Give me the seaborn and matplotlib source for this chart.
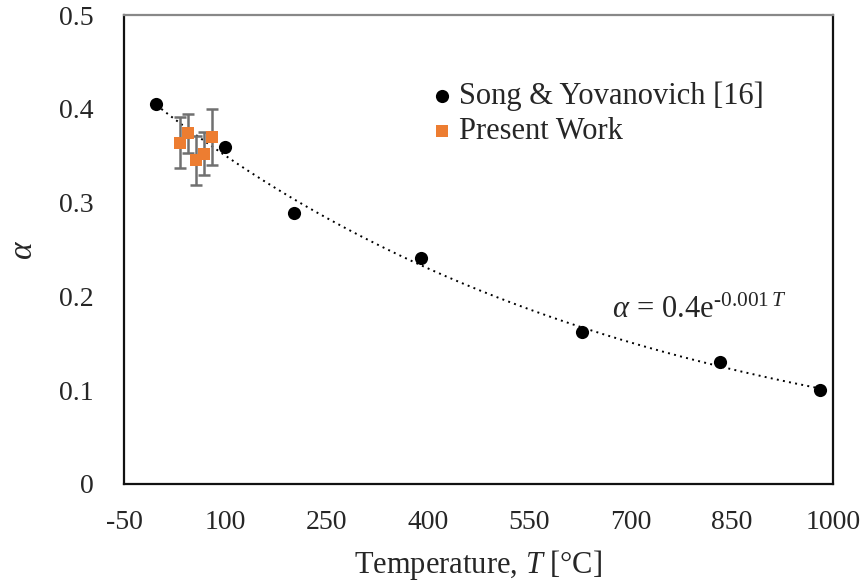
import numpy as np
import pandas as pd
import matplotlib
matplotlib.use('Agg')
import matplotlib.pyplot as plt
import seaborn as sns

# Song & Yovanovich [16]
song_T = [-2, 100, 201, 390, 628, 833, 981]
song_alpha = [0.405, 0.359, 0.289, 0.241, 0.162, 0.130, 0.100]

# Present work
pw_T = [33, 45, 57, 68, 81]
pw_alpha = [0.364, 0.374, 0.345, 0.352, 0.370]
pw_err = [0.027, 0.021, 0.026, 0.023, 0.030]

x_ticks = [-50, 100, 250, 400, 550, 700, 850, 1000]
y_ticks = [0, 0.1, 0.2, 0.3, 0.4, 0.5]

sns.set_style('white')
plt.rcParams['font.family'] = ['Liberation Serif', 'DejaVu Serif']
plt.rcParams['mathtext.fontset'] = 'custom'
plt.rcParams['mathtext.rm'] = 'Liberation Serif'
plt.rcParams['mathtext.it'] = 'Liberation Serif:italic'

song = pd.DataFrame({'T': song_T, 'alpha': song_alpha})
pw = pd.DataFrame({'T': pw_T, 'alpha': pw_alpha})

fig = plt.figure(figsize=(8.68, 5.82), dpi=100)
ax = fig.add_axes([0.1429, 0.1684, 0.9597 - 0.1429, 0.9742 - 0.1684])

# exponential trendline, fitted like excel does (log-linear)
b, a = np.polyfit(song['T'], np.log(song['alpha']), 1)
tt = np.linspace(song['T'].min(), song['T'].max(), 200)
ax.plot(tt, np.exp(a) * np.exp(b * tt), linestyle=(0, (1, 2.2)), color='black', lw=1.4, zorder=1)

ax.errorbar(pw['T'], pw['alpha'], yerr=pw_err, fmt='none', ecolor='#707070',
            elinewidth=1.8, capsize=4, capthick=1.8, zorder=2)
sns.scatterplot(data=song, x='T', y='alpha', ax=ax, color='black', marker='o', s=90,
                edgecolor='black', linewidth=0, label='Song & Yovanovich [16]', zorder=3)
sns.scatterplot(data=pw, x='T', y='alpha', ax=ax, color='#ED7D31', marker='s', s=75,
                edgecolor='#ED7D31', linewidth=0, label='Present Work', zorder=4)

ax.set_xlim(-50, 1000)
ax.set_ylim(0, 0.5)
ax.set_xticks(x_ticks)
ax.set_yticks(y_ticks)
ax.set_xticklabels([str(v) for v in x_ticks])
ax.set_yticklabels(['0', '0.1', '0.2', '0.3', '0.4', '0.5'])
ax.tick_params(axis='both', direction='in', length=7, width=1.5, labelsize=20, color='#222222')
ax.tick_params(axis='x', pad=19)
ax.tick_params(axis='y', pad=22)

for side in ['left', 'bottom', 'right']:
    ax.spines[side].set_color('#111111')
    ax.spines[side].set_linewidth(1.6)
ax.spines['top'].set_color('#888888')
ax.spines['top'].set_linewidth(1.6)

ax.set_xlabel('Temperature, $T$ [°C]', fontsize=22, labelpad=9)
ax.set_ylabel(r'$\alpha$', fontsize=24, labelpad=14)

ax.text(673, 0.177, r'$\alpha\,=\,0.4\mathrm{e}^{\text{-}0.001\,T}$', fontsize=22)

ax.legend(loc='upper left', bbox_to_anchor=(0.41, 0.885), frameon=False, fontsize=22,
          handlelength=1.0, handletextpad=0.05, labelspacing=0.2, borderaxespad=0)

fig.savefig('out.png', dpi=100)
